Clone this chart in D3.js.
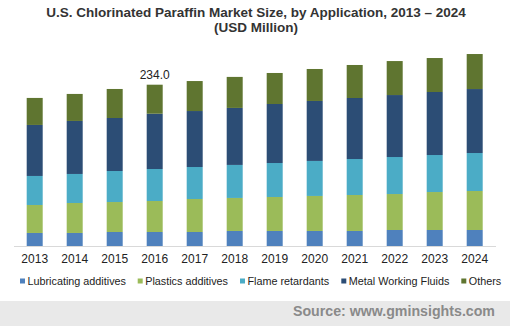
<!DOCTYPE html>
<html>
<head>
<meta charset="utf-8">
<script src="https://cdn.jsdelivr.net/npm/d3@7"></script>
<style>
  body { margin: 0; background: #fff; }
  svg { display: block; font-family: Arial, "Liberation Sans", sans-serif; }
</style>
</head>
<body>
<div id="chart"></div>
<script>
// market size per application, USD million
var years = ["2013","2014","2015","2016","2017","2018","2019","2020","2021","2022","2023","2024"];
var seriesNames = ["Lubricating additives","Plastics additives","Flame retardants","Metal Working Fluids","Others"];
var lubricating = [18.9, 18.9, 20.3, 20.3, 20.3, 21.8, 21.8, 21.8, 21.8, 23.2, 23.2, 23.2];
var plastics    = [40.6, 43.5, 43.5, 45.0, 47.9, 47.9, 49.3, 50.8, 52.2, 52.2, 55.1, 56.6];
var flame       = [42.1, 42.1, 45.0, 46.4, 46.4, 47.9, 49.3, 50.8, 52.2, 53.7, 53.7, 55.1];
var metalWork   = [74.0, 76.9, 76.9, 80.2, 81.2, 82.7, 85.6, 87.0, 88.5, 89.9, 91.4, 92.8];
var others      = [39.2, 39.2, 42.1, 42.1, 43.5, 45.0, 45.0, 46.4, 47.9, 49.3, 49.3, 50.8];
var colors = ["#4f81bd","#9bbb59","#4bacc6","#2c4d75","#5f7530"];
var labelYear = "2016";

var W = 510, H = 326;
var svg = d3.select("#chart").append("svg").attr("width", W).attr("height", H);

// title
svg.selectAll("text.title")
  .data(["U.S. Chlorinated Paraffin Market Size, by Application, 2013 \u2013 2024","(USD Million)"])
  .enter().append("text")
    .attr("class", "title")
    .attr("x", 256)
    .attr("y", function (d, i) { return 17 + i * 15; })
    .attr("text-anchor", "middle")
    .style("font-size", "13.5px")
    .style("font-weight", "bold")
    .style("fill", "#333")
    .text(function (d) { return d; });

var table = years.map(function (y, i) {
  return { year: y, l: lubricating[i], p: plastics[i], f: flame[i], m: metalWork[i], o: others[i] };
});
var keys = ["l","p","f","m","o"];
var stacked = d3.stack().keys(keys)(table);

var x = d3.scaleBand().domain(years).range([14.7, 494.7]).paddingInner(0.6).paddingOuter(0.3);
var y = d3.scaleLinear().domain([0, 300]).range([246, 246 - 300 * 161.3 / 234]);

svg.append("g").selectAll("g")
  .data(stacked)
  .enter().append("g")
    .attr("fill", function (d, i) { return colors[i]; })
  .selectAll("rect")
  .data(function (d) { return d; })
  .enter().append("rect")
    .attr("x", function (d) { return x(d.data.year); })
    .attr("width", x.bandwidth())
    .attr("y", function (d) { return y(d[1]); })
    .attr("height", function (d) { return y(d[0]) - y(d[1]); });

// baseline
svg.append("line")
  .attr("x1", 14).attr("x2", 496)
  .attr("y1", 246.5).attr("y2", 246.5)
  .style("stroke", "#d9d9d9").style("stroke-width", 1);

// x axis labels
var xAxis = svg.append("g")
  .attr("transform", "translate(0,246)")
  .call(d3.axisBottom(x).tickSize(0).tickPadding(8));
xAxis.select(".domain").remove();
xAxis.selectAll("text")
  .style("font-size", "12px")
  .style("fill", "#222")
  .style("font-family", "Arial, 'Liberation Sans', sans-serif");

// total label
var li = years.indexOf(labelYear);
var total = d3.sum(keys, function (k) { return table[li][k]; });
svg.append("text")
  .attr("x", x(labelYear) + x.bandwidth() / 2)
  .attr("y", y(total) - 6)
  .attr("text-anchor", "middle")
  .style("font-size", "12px")
  .style("fill", "#222")
  .text(total.toFixed(1));

// legend
var legendX = [20, 137.7, 240, 341.3, 461.3];
var legend = svg.append("g").selectAll("g")
  .data(seriesNames)
  .enter().append("g")
    .attr("transform", function (d, i) { return "translate(" + legendX[i] + ",281)"; });
legend.append("rect")
  .attr("x", 0).attr("y", -2.5)
  .attr("width", 5).attr("height", 5)
  .attr("fill", function (d, i) { return colors[i]; });
legend.append("text")
  .attr("x", 7.5)
  .attr("y", 4)
  .style("font-size", "10.8px")
  .style("fill", "#222")
  .text(function (d) { return d; });

// footer band
svg.append("rect")
  .attr("x", 0).attr("y", 301)
  .attr("width", W).attr("height", H - 301)
  .attr("fill", "#e9e9e9");
svg.append("text")
  .attr("x", 495)
  .attr("y", 316)
  .attr("text-anchor", "end")
  .style("font-size", "14.2px")
  .style("font-weight", "bold")
  .style("fill", "#8a8a8a")
  .text("Source: www.gminsights.com");
</script>
</body>
</html>
